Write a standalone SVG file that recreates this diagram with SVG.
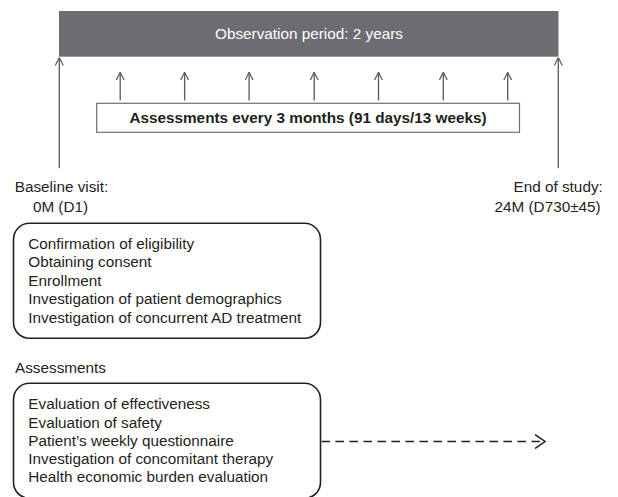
<svg xmlns="http://www.w3.org/2000/svg" width="618" height="497" viewBox="0 0 618 497">
<style>
text{font-family:"Liberation Sans",Arial,Helvetica,sans-serif;font-size:15.3px;fill:#231f20}
.w{fill:#ffffff}
.b{font-weight:bold}
.m{text-anchor:middle}
.ar{stroke:#58595b;stroke-width:1.3;fill:none;marker-end:url(#head)}
.box{fill:#ffffff;stroke:#231f20;stroke-width:1.6}
</style>
<defs>
<marker id="head" markerUnits="userSpaceOnUse" viewBox="0 0 8 9" refX="8" refY="4.5" markerWidth="8" markerHeight="9" orient="auto">
<path d="M0,0.5 L8,4.5 L0,8.5" fill="none" stroke="#58595b" stroke-width="1.2"/>
</marker>
<marker id="head2" markerUnits="userSpaceOnUse" viewBox="0 0 11 15" refX="10.5" refY="7.5" markerWidth="11" markerHeight="15" orient="auto">
<path d="M0.5,0.5 L10.5,7.5 L0.5,14.5" fill="none" stroke="#231f20" stroke-width="1.5"/>
</marker>
</defs>

<g id="period">
<rect x="59" y="11" width="499.5" height="45.7" fill="#6c6d70"/>
<text class="w m" x="309" y="39.3">Observation period: 2 years</text>
</g>

<g id="assess-every">
<rect x="96.7" y="103.3" width="422.8" height="29" fill="#ffffff" stroke="#6d6e71" stroke-width="1.2"/>
<text class="b m" x="308" y="123.3">Assessments every 3 months (91 days/13 weeks)</text>
</g>

<g id="baseline-label">
<text class="m" x="61.5" y="191.5">Baseline visit:</text>
<text class="m" x="60.5" y="211.5">0M (D1)</text>
</g>

<g id="end-label">
<text x="513.5" y="191.5">End of study:</text>
<text x="494.5" y="211.5">24M (D730±45)</text>
</g>

<g id="baseline-box">
<rect class="box" x="13.5" y="223.3" width="307" height="115" rx="16" ry="16"/>
<text x="28.3" y="248.8">Confirmation of eligibility</text>
<text x="28.3" y="267.3">Obtaining consent</text>
<text x="28.3" y="285.8">Enrollment</text>
<text x="28.3" y="304.3">Investigation of patient demographics</text>
<text x="28.3" y="322.8">Investigation of concurrent AD treatment</text>
</g>

<g id="assessments-label">
<text x="15" y="372.5">Assessments</text>
</g>

<g id="assessments-box">
<rect class="box" x="13.5" y="383.3" width="307" height="115" rx="16" ry="16"/>
<text x="28.3" y="409.3">Evaluation of effectiveness</text>
<text x="28.3" y="427.5">Evaluation of safety</text>
<text x="28.3" y="445.7">Patient’s weekly questionnaire</text>
<text x="28.3" y="463.9">Investigation of concomitant therapy</text>
<text x="28.3" y="482.1">Health economic burden evaluation</text>
</g>

<g id="connectors">
<line class="ar" x1="59.3" y1="168.3" x2="59.3" y2="57.5"/>
<line class="ar" x1="558.3" y1="168.3" x2="558.3" y2="57.5"/>
<line class="ar" x1="120.2" y1="100.5" x2="120.2" y2="72.3"/>
<line class="ar" x1="184.6" y1="100.5" x2="184.6" y2="72.3"/>
<line class="ar" x1="249.1" y1="100.5" x2="249.1" y2="72.3"/>
<line class="ar" x1="314.2" y1="100.5" x2="314.2" y2="72.3"/>
<line class="ar" x1="378.5" y1="100.5" x2="378.5" y2="72.3"/>
<line class="ar" x1="443.3" y1="100.5" x2="443.3" y2="72.3"/>
<line class="ar" x1="507.7" y1="100.5" x2="507.7" y2="72.3"/>
<line x1="321.5" y1="441.5" x2="545" y2="441.5" stroke="#231f20" stroke-width="1.5" stroke-dasharray="8.5,5.5" marker-end="url(#head2)"/>
</g>
</svg>
